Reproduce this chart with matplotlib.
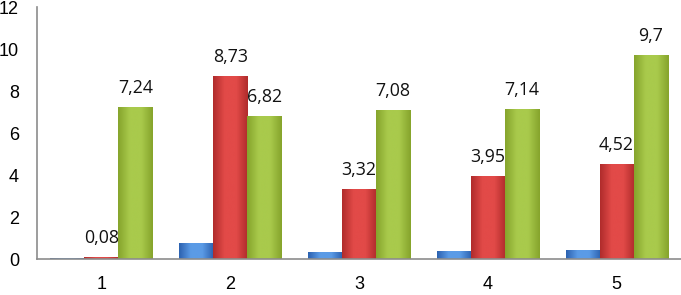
import matplotlib
matplotlib.use("Agg")
import matplotlib.pyplot as plt
import numpy as np
from matplotlib.colors import LinearSegmentedColormap

categories = ["1", "2", "3", "4", "5"]
blue_vals = [0.05, 0.75, 0.32, 0.4, 0.42]
red_vals = [0.08, 8.73, 3.32, 3.95, 4.52]
green_vals = [7.24, 6.82, 7.08, 7.14, 9.7]
red_labels = ["0,08", "8,73", "3,32", "3,95", "4,52"]
green_labels = ["7,24", "6,82", "7,08", "7,14", "9,7"]
yticks = [0, 2, 4, 6, 8, 10, 12]

fig = plt.figure(figsize=(6.81, 2.95), dpi=100)
ax = fig.add_axes([37/681, 1-259/295, 1-37/681, (259-7)/295])

x = np.arange(len(categories))
w = 0.264

series = [
    (blue_vals, -w, ("#2c62b0", "#5b9be6", "#2c62b0"), None),
    (red_vals, 0, ("#b02c2c", "#e24a48", "#b02c2c"), red_labels),
    (green_vals, w, ("#86a42c", "#a9ca4c", "#86a42c"), green_labels),
]

for vals, off, cols, labels in series:
    bars = ax.bar(x + off, vals, width=w, color=cols[1], edgecolor=cols[0], linewidth=0.6, zorder=2)
    cmap = LinearSegmentedColormap.from_list("g", [cols[0], cols[1], cols[1], cols[0]])
    grad = np.linspace(0, 1, 64).reshape(1, -1)
    for b in bars:
        bx, by, bw, bh = b.get_x(), b.get_y(), b.get_width(), b.get_height()
        im = ax.imshow(grad, cmap=cmap, aspect="auto", extent=(bx, bx + bw, by, by + bh),
                       zorder=2.5, interpolation="bicubic")
        im.set_clip_path(b)
    if labels:
        for b, lab in zip(bars, labels):
            ax.annotate(lab, (b.get_x() + b.get_width()/2, b.get_height()),
                        xytext=(0, 10), textcoords="offset points", ha="center", va="baseline",
                        fontsize=12.8, family="Open Sans", color="#111111")

ax.set_xlim(-0.5, 4.5)
ax.set_ylim(0, 12)
ax.set_yticks(yticks)
ax.set_yticklabels([str(t) for t in yticks], family="Liberation Sans", fontsize=13)
ax.set_xticks(x)
ax.set_xticklabels(categories, family="Liberation Sans", fontsize=13)
ax.tick_params(axis="y", length=0, pad=13)
ax.tick_params(axis="x", length=0, pad=12)
for s in ["top", "right"]:
    ax.spines[s].set_visible(False)
for s in ["left", "bottom"]:
    ax.spines[s].set_color("#8c8c8c")
    ax.spines[s].set_linewidth(1.2)

fig.savefig("out.png", dpi=100)
